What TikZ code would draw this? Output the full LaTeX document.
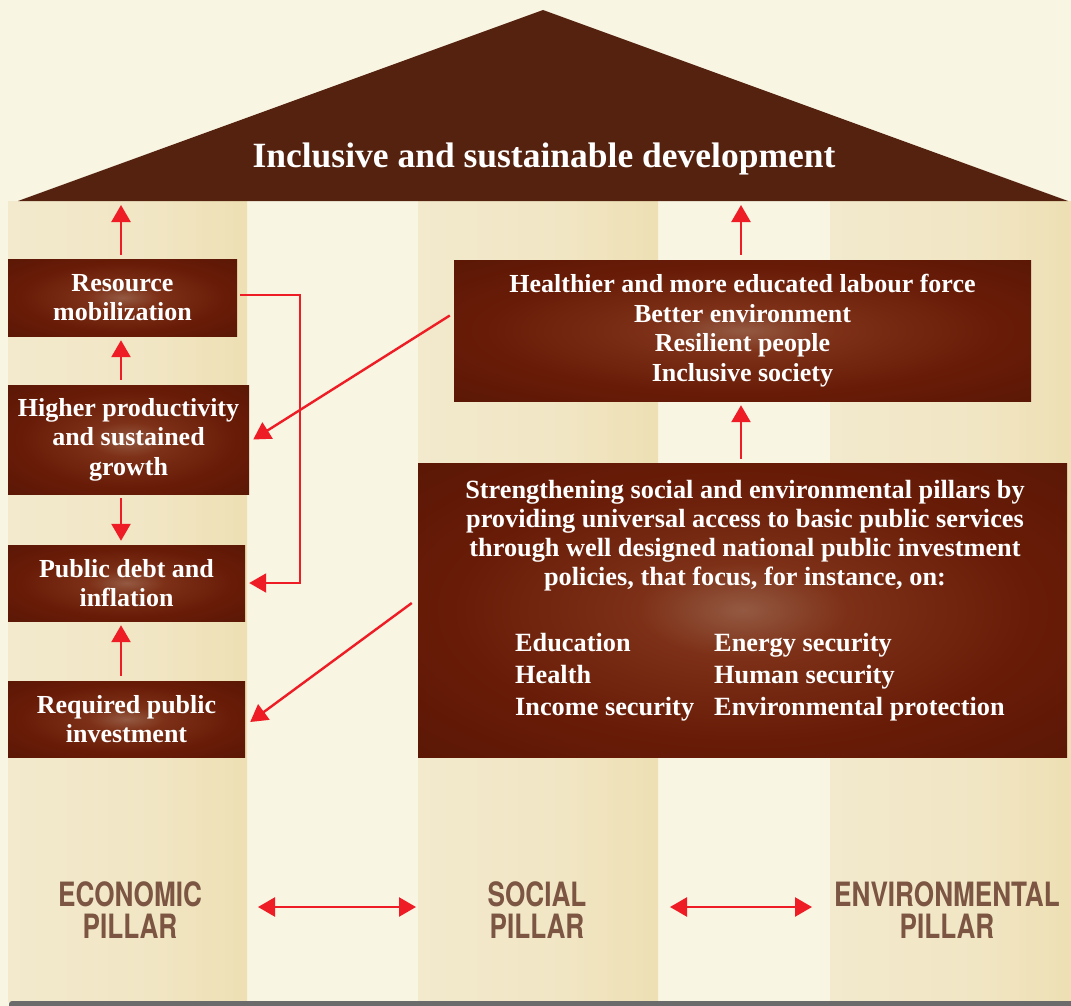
\documentclass[tikz,border=0pt]{standalone}
\usepackage{fontspec}
\setmainfont{Liberation Serif}
\newfontfamily\pillarfont[FakeStretch=0.78]{TeX Gyre Heros}
\usetikzlibrary{arrows.meta,calc}
\definecolor{bgc}{HTML}{F8F5E2}
\definecolor{roofc}{HTML}{55220F}
\definecolor{pilL}{HTML}{F4EDD5}
\definecolor{pilM}{HTML}{F1E6C4}
\definecolor{pilR}{HTML}{EDDDAE}
\definecolor{arrc}{HTML}{EE1C25}
\definecolor{labc}{HTML}{7C5543}
\definecolor{barc}{HTML}{6B6B6B}
\pgfdeclareradialshading{boxshade}{\pgfpoint{0bp}{0bp}}{rgb(0bp)=(0.58,0.35,0.26); rgb(8bp)=(0.49,0.19,0.09); rgb(22bp)=(0.41,0.11,0.03); rgb(50bp)=(0.30,0.07,0.01)}
\pgfdeclarehorizontalshading{pillarshade}{100bp}{color(0bp)=(pilL); color(55bp)=(pilM); color(82bp)=(pilR); color(100bp)=(pilR)}
\tikzset{
  box/.style={shade, shading=boxshade, text=white, align=center, inner sep=0pt,
    font=\fontsize{26}{29.5}\selectfont\bfseries},
  txt/.style={text=white, inner sep=0pt, font=\fontsize{26.3}{29}\selectfont\bfseries},
  arr/.style={draw=arrc, line width=2.4pt, -{Triangle[length=17pt,width=19pt]}},
  elbow/.style={draw=arrc, line width=2pt, -{Triangle[length=17pt,width=19pt]}},
  dbl/.style={draw=arrc, line width=2.4pt, {Triangle[length=17pt,width=19pt]}-{Triangle[length=17pt,width=19pt]}},
  plabel/.style={text=labc, align=center, inner sep=0pt,
    font=\pillarfont\bfseries\fontsize{33.5}{32}\selectfont},
  pillar/.style={shade, shading=pillarshade}
}
\begin{document}
\begin{tikzpicture}[x=1pt,y=-1pt]
\useasboundingbox (0,0) rectangle (1071,1006);
\fill[bgc] (0,0) rectangle (1071,1006);
% pillars
\path[pillar] (8,201) rectangle (247,1001);
\path[pillar] (418,201) rectangle (658,1001);
\path[pillar] (830,201) rectangle (1071,1001);
% bottom bar
\fill[barc, rounded corners=3pt] (9,1001) rectangle (1080,1015);
% roof
\fill[roofc] (18,201) -- (543,10) -- (1068,201) -- cycle;
\node[text=white, inner sep=0pt, font=\fontsize{35.5}{40}\selectfont\bfseries] (roof) at (544,159) {Inclusive and sustainable development};
\coordinate (roofA) at (121,205);
\coordinate (roofB) at (741,205);
% economic boxes
\node[box, minimum width=229pt, minimum height=77pt] (res) at (122.5,297.5) {Resource\\mobilization};
\node[box, minimum width=241pt, minimum height=109pt] (hig) at (128.5,439.5) {Higher productivity\\and sustained\\growth};
\node[box, minimum width=237pt, minimum height=76pt] (pub) at (126.5,583) {Public debt and\\inflation};
\node[box, minimum width=237pt, minimum height=76pt] (req) at (126.5,719) {Required public\\investment};
\coordinate (colx) at (121,0);
% social / environmental boxes
\node[box, minimum width=577pt, minimum height=141pt] (hea) at (742.5,330.5) {Healthier and more educated labour force\\Better environment\\Resilient people\\Inclusive society};
\node[box, minimum width=649pt, minimum height=294pt] (str) at (742.5,610) {};
\node[txt, align=center] (strtext) at (745,535.5) {Strengthening social and environmental pillars by\\providing universal access to basic public services\\through well designed national public investment\\policies, that focus, for instance, on:};
\node[txt, align=left, anchor=west, font=\fontsize{26.3}{32}\selectfont\bfseries] (listL) at (515,677) {Education\\Health\\Income security};
\node[txt, align=left, anchor=west, font=\fontsize{26.3}{32}\selectfont\bfseries] (listR) at (714,677) {Energy security\\Human security\\Environmental protection};
% arrows
\draw[arr, shorten <=4pt] (colx |- res.north) -- (roofA);
\draw[arr, shorten <=5pt, shorten >=4pt] (colx |- hig.north) -- (colx |- res.south);
\draw[arr, shorten <=4pt, shorten >=4pt] (colx |- hig.south) -- (colx |- pub.north);
\draw[arr, shorten <=5pt, shorten >=4pt] (colx |- req.north) -- (colx |- pub.south);
\draw[elbow] ([xshift=3pt,yshift=3pt]res.east) -- ++(60,0) |- ([xshift=4pt]pub.east);
\draw[arr] ([xshift=-4pt,yshift=15pt]hea.west) -- ([xshift=4pt]hig.east);
\draw[arr] ([xshift=-6pt,yshift=7pt]str.west) -- ([xshift=5pt,yshift=-3pt]req.east);
\draw[arr, shorten <=4pt, shorten >=4pt] (roofB |- str.north) -- (roofB |- hea.south);
\draw[arr, shorten <=5pt] (roofB |- hea.north) -- (roofB);
% pillar labels
\node[plabel] (eco) at (130,910) {ECONOMIC\\PILLAR};
\node[plabel] (soc) at (537,910) {SOCIAL\\PILLAR};
\node[plabel] (env) at (947,910) {ENVIRONMENTAL\\PILLAR};
\coordinate (d1a) at (258,907);
\coordinate (d1b) at (416,907);
\coordinate (d2a) at (670,907);
\coordinate (d2b) at (812,907);
\draw[dbl] (d1a) -- (d1b);
\draw[dbl] (d2a) -- (d2b);
\end{tikzpicture}
\end{document}
